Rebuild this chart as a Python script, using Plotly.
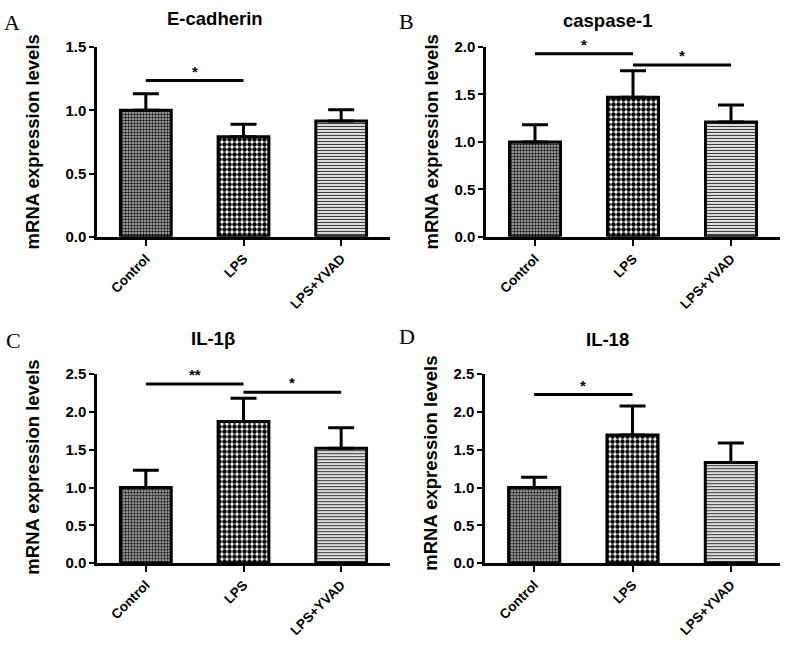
import plotly.graph_objects as go

W, H = 789, 648

categories = ["Control", "LPS", "LPS+YVAD"]

# panel data
titles = ["E-cadherin", "caspase-1", "IL-1β", "IL-18"]
letters = ["A", "B", "C", "D"]
means = [
    [1.00, 0.79, 0.915],
    [1.00, 1.47, 1.21],
    [1.00, 1.875, 1.52],
    [1.00, 1.695, 1.33],
]
errors = [
    [0.13, 0.10, 0.09],
    [0.18, 0.28, 0.18],
    [0.23, 0.305, 0.27],
    [0.135, 0.385, 0.26],
]
y_max = [1.5, 2.0, 2.5, 2.5]
y_dtick = [0.5, 0.5, 0.5, 0.5]
# significance: (from_idx, to_idx, y, label)
sig = [
    [(0, 1, 1.235, "*")],
    [(0, 1, 1.93, "*"), (1, 2, 1.81, "*")],
    [(0, 1, 2.37, "**"), (1, 2, 2.26, "*")],
    [(0, 1, 2.23, "*")],
]

# layout geometry in pixels
x_dom_px = [(97, 390), (486, 780), (97, 390), (485, 780)]
y_dom_px = [(39, 234), (39, 234), (375, 569), (375, 569)]
title_pos = [(215, 10), (607, 12), (213, 338), (607, 339)]
letter_pos = [(12, 14), (406, 13), (13, 340), (407, 336)]
ytitle_pos = [(32, 137), (431, 137), (33, 471), (431, 467)]

patterns = [
    dict(shape=".", size=3, solidity=0.55, fgcolor="#1a1a1a", bgcolor="#c4c4c4", fillmode="replace"),
    dict(shape=".", size=5, solidity=0.62, fgcolor="#000000", bgcolor="#ffffff", fillmode="replace"),
    dict(shape="-", size=3, solidity=0.45, fgcolor="#3a3a3a", bgcolor="#ffffff", fillmode="replace"),
]

fig = go.Figure()
FONT = "Liberation Sans, Arial, sans-serif"
annotations = []
shapes = []

for p in range(4):
    ax = "" if p == 0 else str(p + 1)
    xa = "x" + ax
    ya = "y" + ax
    for i, cat in enumerate(categories):
        fig.add_trace(go.Bar(
            x=[i], y=[means[p][i]],
            width=0.52,
            marker=dict(color="white", pattern=patterns[i],
                        line=dict(color="black", width=3)),
            error_y=dict(type="data", symmetric=False, array=[errors[p][i]],
                         arrayminus=[0], color="black", thickness=3, width=13),
            xaxis=xa, yaxis=ya, showlegend=False, hoverinfo="skip",
        ))
    x0, x1 = x_dom_px[p]
    y0, y1 = y_dom_px[p]
    xkey = "xaxis" + ax
    ykey = "yaxis" + ax
    fig.layout[xkey] = dict(
        domain=[x0 / W, x1 / W], anchor=ya, range=[-0.5, 2.5],
        tickvals=[0, 1, 2], ticktext=categories, tickangle=-45,
        tickfont=dict(family=FONT, size=13.5, color="black", weight="bold"),
        showline=True, linecolor="black", linewidth=2.5,
        ticks="outside", ticklen=6, tickwidth=2, tickcolor="black",
        showgrid=False, zeroline=False, fixedrange=True,
    )
    fig.layout[ykey] = dict(
        domain=[1 - y1 / H, 1 - y0 / H], anchor=xa, range=[0, y_max[p]],
        dtick=y_dtick[p], tickformat=".1f",
        tickfont=dict(family=FONT, size=15, color="black", weight="bold"),
        showline=True, linecolor="black", linewidth=2.5,
        ticks="outside", ticklen=5, tickwidth=2, tickcolor="black",
        showgrid=False, zeroline=False, fixedrange=True,
    )
    for (a, b, yv, lab) in sig[p]:
        shapes.append(dict(type="line", xref=xa, yref=ya, x0=a, x1=b, y0=yv, y1=yv,
                           line=dict(color="black", width=3)))
        annotations.append(dict(xref=xa, yref=ya, x=(a + b) / 2, y=yv, text=lab,
                                showarrow=False, yanchor="bottom", yshift=-1,
                                font=dict(family=FONT, size=15, color="black", weight="bold")))
    tx, ty = title_pos[p]
    annotations.append(dict(xref="paper", yref="paper", x=tx / W, y=1 - ty / H, text=titles[p],
                            showarrow=False, xanchor="center", yanchor="middle",
                            font=dict(family=FONT, size=18.5, color="black", weight="bold")))
    lx, ly = letter_pos[p]
    annotations.append(dict(xref="paper", yref="paper", x=lx / W, y=1 - ly / H, text=letters[p],
                            showarrow=False, xanchor="center", yanchor="middle",
                            font=dict(family="Liberation Serif, Times New Roman, serif", size=22, color="black")))
    yx, yy = ytitle_pos[p]
    annotations.append(dict(xref="paper", yref="paper", x=yx / W, y=1 - yy / H,
                            text="mRNA expression levels", textangle=-90,
                            showarrow=False, xanchor="center", yanchor="middle",
                            font=dict(family=FONT, size=18.5, color="black", weight="bold")))

fig.update_layout(
    width=W, height=H,
    margin=dict(l=0, r=0, t=0, b=0),
    paper_bgcolor="white", plot_bgcolor="white",
    barmode="overlay",
    annotations=annotations, shapes=shapes,
    showlegend=False,
)

fig.write_html("out.html", config={"displayModeBar": False},
               post_script="document.body.style.margin='0';document.body.style.overflow='hidden';")
